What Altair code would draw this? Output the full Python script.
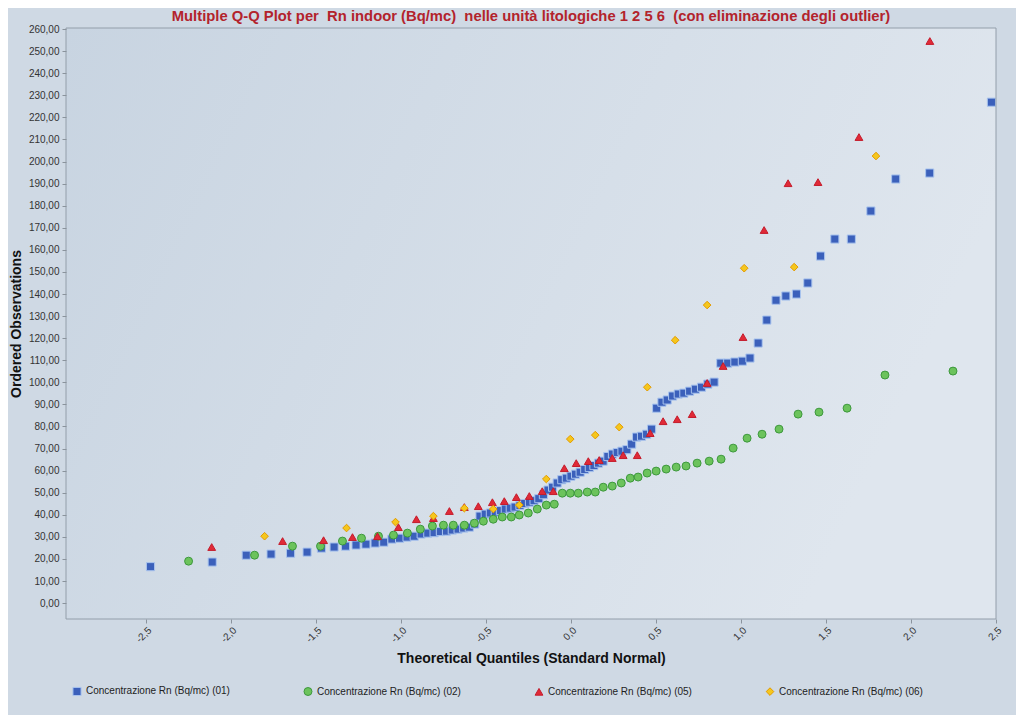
import altair as alt
import pandas as pd

series_names = [
    "Concentrazione Rn (Bq/mc) (01)",
    "Concentrazione Rn (Bq/mc) (02)",
    "Concentrazione Rn (Bq/mc) (05)",
    "Concentrazione Rn (Bq/mc) (06)",
]

blue_x = [-2.473, -2.110, -1.910, -1.764, -1.649, -1.552, -1.468, -1.393, -1.326, -1.264,
          -1.206, -1.152, -1.101, -1.053, -1.008, -0.964, -0.922, -0.881, -0.842, -0.805,
          -0.768, -0.732, -0.698, -0.664, -0.631, -0.598, -0.566, -0.535, -0.504, -0.474,
          -0.445, -0.415, -0.386, -0.357, -0.329, -0.300, -0.272, -0.244, -0.217, -0.189,
          -0.162, -0.135, -0.108, -0.081, -0.054, -0.027, 0.000, 0.027, 0.054, 0.081,
          0.108, 0.135, 0.162, 0.189, 0.217, 0.244, 0.272, 0.300, 0.329, 0.357,
          0.386, 0.415, 0.445, 0.474, 0.504, 0.535, 0.566, 0.598, 0.631, 0.664,
          0.698, 0.732, 0.768, 0.805, 0.842, 0.881, 0.922, 0.964, 1.008, 1.053,
          1.101, 1.152, 1.206, 1.264, 1.326, 1.393, 1.468, 1.552, 1.649, 1.764,
          1.910, 2.110, 2.473]
blue_y = [16.5, 18.6, 21.7, 22.2, 22.6, 23.1, 24.9, 25.4, 25.8, 26.3,
          26.7, 27.2, 27.6, 29.0, 29.4, 29.9, 30.3, 31.3, 31.7, 31.9,
          32.4, 32.6, 33.1, 33.5, 34.0, 34.4, 35.8, 39.4, 40.3, 40.8,
          41.2, 41.9, 42.6, 43.0, 43.5, 44.2, 45.1, 45.7, 46.4, 47.3,
          49.1, 51.2, 52.5, 54.4, 55.9, 56.6, 57.5, 58.4, 59.3, 60.5,
          61.4, 62.3, 63.4, 64.3, 66.4, 67.5, 68.2, 68.8, 69.5, 72.0,
          75.2, 75.6, 76.5, 78.8, 88.3, 91.0, 92.0, 93.8, 94.7, 95.1,
          96.0, 96.9, 97.8, 99.2, 100.1, 108.7, 108.7, 109.2, 109.6, 111.0,
          117.8, 128.2, 137.2, 139.1, 140.0, 145.0, 157.2, 164.9, 164.9, 177.6,
          192.1, 194.8, 226.9]

green_x = [-2.249, -1.861, -1.638, -1.473, -1.344, -1.232, -1.132, -1.044, -0.962, -0.886,
           -0.815, -0.750, -0.692, -0.627, -0.568, -0.515, -0.457, -0.404, -0.351, -0.304,
           -0.251, -0.198, -0.145, -0.098, -0.051, -0.004, 0.043, 0.096, 0.143, 0.190,
           0.243, 0.296, 0.349, 0.395, 0.448, 0.501, 0.560, 0.619, 0.677, 0.742,
           0.813, 0.883, 0.954, 1.036, 1.124, 1.224, 1.336, 1.459, 1.624, 1.847,
           2.247]
green_y = [19.0, 21.7, 25.8, 25.8, 28.1, 29.4, 30.3, 30.8, 31.7, 33.5,
           34.9, 35.3, 35.3, 35.3, 36.2, 37.1, 38.0, 39.0, 39.0, 39.9,
           40.8, 42.6, 44.4, 44.8, 49.8, 49.8, 49.8, 50.3, 50.3, 52.5,
           53.0, 54.4, 56.6, 57.1, 58.9, 59.8, 60.7, 61.6, 62.1, 63.4,
           64.3, 65.2, 70.2, 74.7, 76.5, 78.8, 85.6, 86.5, 88.3, 103.3,
           105.1]

red_x = [-2.113, -1.696, -1.455, -1.285, -1.138, -1.015, -0.909, -0.809, -0.715, -0.627,
         -0.545, -0.462, -0.392, -0.321, -0.245, -0.169, -0.104, -0.039, 0.031, 0.102,
         0.166, 0.243, 0.307, 0.390, 0.466, 0.542, 0.625, 0.713, 0.801, 0.895,
         1.012, 1.136, 1.277, 1.453, 1.694, 2.111]
red_y = [25.4, 28.1, 28.5, 29.9, 30.3, 34.4, 38.0, 38.5, 41.7, 43.5,
         43.9, 45.7, 46.2, 48.0, 48.5, 50.7, 50.7, 61.1, 63.4, 64.3,
         64.8, 65.7, 67.0, 67.0, 77.0, 82.4, 83.3, 85.6, 99.7, 107.4,
         120.5, 169.0, 190.2, 190.7, 211.1, 254.6]

yellow_x = [-1.802, -1.320, -1.032, -0.809, -0.627, -0.457, -0.304, -0.145, -0.004, 0.143,
            0.284, 0.449, 0.613, 0.801, 1.019, 1.313, 1.794]
yellow_y = [30.3, 34.0, 36.7, 39.4, 43.0, 42.6, 44.4, 56.2, 74.3, 76.1,
            79.7, 97.8, 119.1, 135.0, 151.7, 152.2, 202.5]

x_ticks = [-2.5, -2.0, -1.5, -1.0, -0.5, 0.0, 0.5, 1.0, 1.5, 2.0, 2.5]
y_ticks = list(range(0, 261, 10))

rows = []
k = 0
for name, xs, ys in zip(series_names, [blue_x, green_x, red_x, yellow_x],
                        [blue_y, green_y, red_y, yellow_y]):
    for xv, yv in zip(xs, ys):
        rows.append({"series": name, "q": xv, "obs": yv, "idx": k})
        k += 1
df = pd.DataFrame(rows)

W, H = 930, 591
FONT = "Liberation Sans, Arial, sans-serif"

shapes = ["square", "circle", "triangle-up", "diamond"]
fills = ["#3b60bb", "#6cc35c", "#e02a37", "#f5c71d"]
strokes = ["#a9c4ee", "#3d983d", "#c41c2c", "#e39a00"]
sizes = [66, 58, 58, 58]

one = pd.DataFrame({"a": [0]})

plot_bg = alt.Chart(one).mark_rect(
    color=alt.LinearGradient(
        gradient="linear", x1=0, y1=0, x2=1, y2=0.3,
        stops=[alt.GradientStop(color="#c8d4e1", offset=0),
               alt.GradientStop(color="#dfe6ee", offset=1)]),
).encode(x=alt.value(0), x2=alt.value(W), y=alt.value(0), y2=alt.value(H))

frame = alt.Chart(one).mark_rect(
    fillOpacity=0, stroke="#939eaa", strokeWidth=1
).encode(x=alt.value(0), x2=alt.value(W), y=alt.value(0), y2=alt.value(H))

x_label = "(datum.value < 0 ? '-' : '') + replace(format(abs(datum.value), '.1f'), '.', ',')"
y_label = "replace(format(datum.value, '.2f'), '.', ',')"

legend = alt.Legend(
    title=None, orient="none", legendX=6, legendY=658, direction="horizontal",
    columns=4, columnPadding=72, labelFontSize=10, labelColor="#222222",
    labelFont=FONT, symbolStrokeWidth=1, labelOffset=4,
)

points = alt.Chart(df).mark_point(filled=True, opacity=1, strokeWidth=1).encode(
    x=alt.X("q:Q", title="Theoretical Quantiles (Standard Normal)",
            scale=alt.Scale(domain=[-2.97, 2.5], nice=False, zero=False),
            axis=alt.Axis(values=x_ticks, labelExpr=x_label, labelAngle=-45,
                          labelAlign="right", labelBaseline="top", grid=False,
                          domain=False, tickColor="#8a939c", tickSize=4,
                          labelFontSize=10, labelColor="#333333", labelFont=FONT,
                          labelPadding=2, titleFontSize=14, titleFont=FONT,
                          titleFontWeight="bold", titleColor="#111111",
                          titlePadding=7, zindex=2)),
    y=alt.Y("obs:Q", title="Ordered Observations",
            scale=alt.Scale(domain=[-7.2, 260.5], nice=False, zero=False),
            axis=alt.Axis(values=y_ticks, labelExpr=y_label, grid=False,
                          domain=False, tickColor="#8a939c", tickSize=4,
                          labelFontSize=10, labelColor="#333333", labelFont=FONT,
                          labelPadding=3, titleFontSize=14, titleFont=FONT,
                          titleFontWeight="bold", titleColor="#111111",
                          titlePadding=5, zindex=2)),
    shape=alt.Shape("series:N", scale=alt.Scale(domain=series_names, range=shapes), legend=legend),
    fill=alt.Fill("series:N", scale=alt.Scale(domain=series_names, range=fills), legend=legend),
    stroke=alt.Stroke("series:N", scale=alt.Scale(domain=series_names, range=strokes), legend=legend),
    size=alt.Size("series:N", scale=alt.Scale(domain=series_names, range=sizes), legend=legend),
    order=alt.Order("idx:Q"),
)

title_text = "Multiple Q-Q Plot per \u00a0Rn indoor (Bq/mc) \u00a0nelle unità litologiche 1 2 5 6 \u00a0(con eliminazione degli outlier)"

chart = alt.layer(plot_bg, points, frame).properties(
    width=W, height=H,
    title=alt.TitleParams(
        title_text, font=FONT, fontSize=14.8, fontWeight="bold", color="#b3232c",
        anchor="middle", frame="group", offset=0),
    autosize=alt.AutoSizeParams(type="none"),
    padding={"left": 58, "top": 20, "right": 20, "bottom": 96},
).configure(background="#cfd9e4").configure_view(stroke=None)

chart.save("out.html", embed_options={"renderer": "svg", "actions": False})
